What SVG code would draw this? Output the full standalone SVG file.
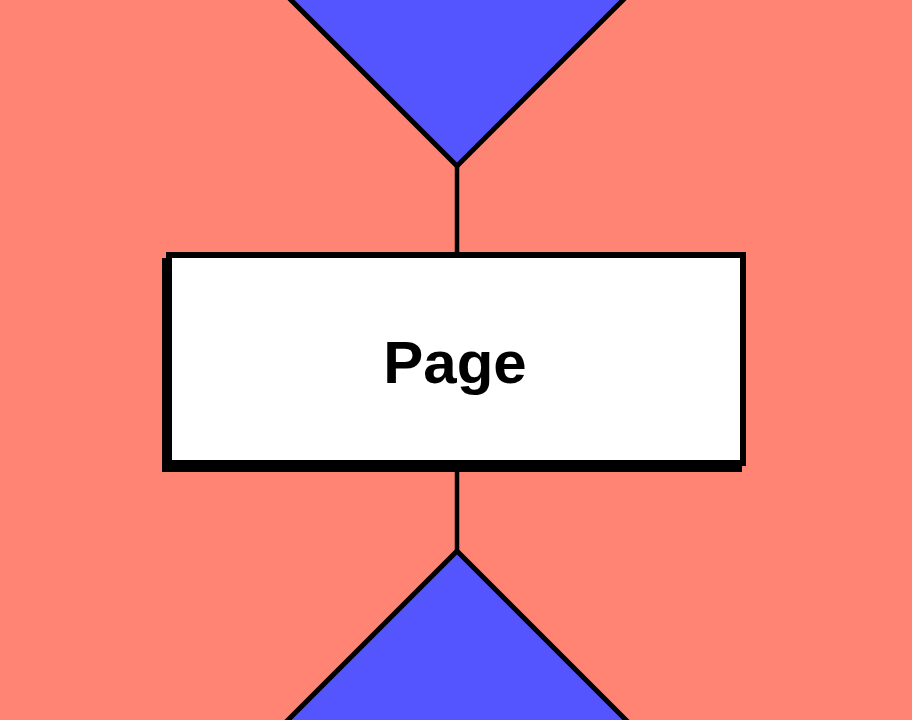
<svg xmlns="http://www.w3.org/2000/svg" width="912" height="720" viewBox="0 0 912 720">
<style>
.tri{fill:#5555FF;stroke:#000;stroke-width:5;stroke-linejoin:miter}
.conn{stroke:#000;stroke-width:4.5;fill:none}
.label{font-family:"Liberation Sans",Arial,sans-serif;font-weight:bold;font-size:60px;fill:#000}
</style>
<rect x="0" y="0" width="912" height="720" fill="#FF8474"/>
<g id="connectors">
<line class="conn" x1="457" y1="160" x2="457" y2="256"/>
<line class="conn" x1="457" y1="462" x2="457" y2="556"/>
</g>
<g id="top-triangle">
<polygon class="tri" points="282,-9 457,166 632,-9"/>
</g>
<g id="bottom-triangle">
<polygon class="tri" points="279,729 457,551 635,729"/>
</g>
<g id="page">
<rect x="162" y="258" width="580" height="214" fill="#000"/>
<rect x="169" y="255" width="574" height="208" fill="#fff" stroke="#000" stroke-width="6"/>
<text class="label" x="455" y="383" text-anchor="middle">Page</text>
</g>
</svg>
